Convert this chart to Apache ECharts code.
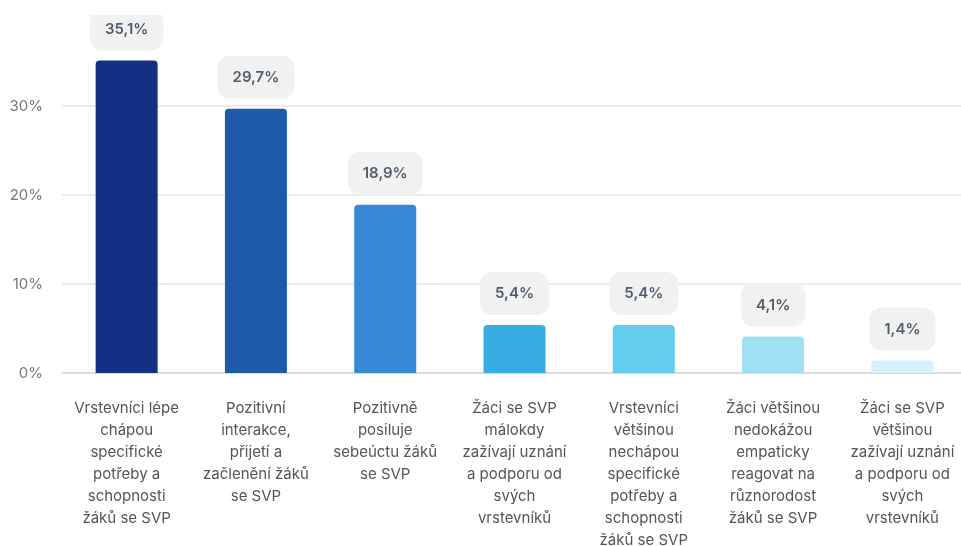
<!DOCTYPE html>
<html><head><meta charset="utf-8">
<script src="https://cdn.jsdelivr.net/npm/echarts@6/dist/echarts.min.js"></script>
<style>html,body{margin:0;padding:0;background:#fff;overflow:hidden}#c{width:961px;height:546px;clip-path:inset(15px 0 0 0)}</style>
</head><body><div id="c"></div>
<script>
const categories = [
  "Vrstevníci lépe\nchápou\nspecifické\npotřeby a\nschopnosti\nžáků se SVP",
  "Pozitivní\ninterakce,\npřijetí a\nzačlenění žáků\nse SVP",
  "Pozitivně\nposiluje\nsebeúctu žáků\nse SVP",
  "Žáci se SVP\nmálokdy\nzažívají uznání\na podporu od\nsvých\nvrstevníků",
  "Vrstevníci\nvětšinou\nnechápou\nspecifické\npotřeby a\nschopnosti\nžáků se SVP",
  "Žáci většinou\nnedokážou\nempaticky\nreagovat na\nrůznorodost\nžáků se SVP",
  "Žáci se SVP\nvětšinou\nzažívají uznání\na podporu od\nsvých\nvrstevníků"
];
const values = [35.1, 29.7, 18.9, 5.4, 5.4, 4.1, 1.4];
const barColors = ["#133083", "#1f5aa9", "#3988d6", "#3aace4", "#62cdef", "#9fe0f4", "#d2f1fa"];

const chart = echarts.init(document.getElementById('c'), null, {renderer: 'canvas'});
chart.setOption({
  animation: false,
  grid: {left: 62, top: 17, width: 905, bottom: 173, containLabel: false, outerBoundsMode: 'none'},
  xAxis: {
    type: 'category',
    data: categories,
    axisTick: {show: false},
    axisLine: {show: true, lineStyle: {color: '#d9dbe5', width: 2}},
    axisLabel: {
      interval: 0, margin: 24, color: '#555555',
      fontFamily: 'Inter', fontSize: 15, lineHeight: 22
    }
  },
  yAxis: {
    type: 'value', min: 0, max: 40, interval: 10,
    axisLine: {show: false}, axisTick: {show: false},
    axisLabel: {
      margin: 19, color: '#777777', fontFamily: 'Inter', fontSize: 15,
      formatter: v => v >= 40 ? '' : v + '%'
    },
    splitLine: {lineStyle: {color: ['#ececec', '#ececec', '#ececec', '#ececec', 'rgba(0,0,0,0)'], width: 2}}
  },
  series: [{
    type: 'bar',
    barWidth: 62,
    data: values.map((v, i) => ({value: v, itemStyle: {color: barColors[i]}})),
    itemStyle: {borderRadius: [4, 4, 0, 0]},
    label: {
      show: true, position: 'top', distance: 10,
      formatter: p => String(p.value).replace('.', ',') + '%',
      backgroundColor: '#f0f1f1', borderRadius: 12,
      padding: [14, 15, 14, 15],
      color: '#555b6d', fontFamily: 'Inter', fontWeight: 600, fontSize: 15
    }
  }]
});
</script></body></html>
